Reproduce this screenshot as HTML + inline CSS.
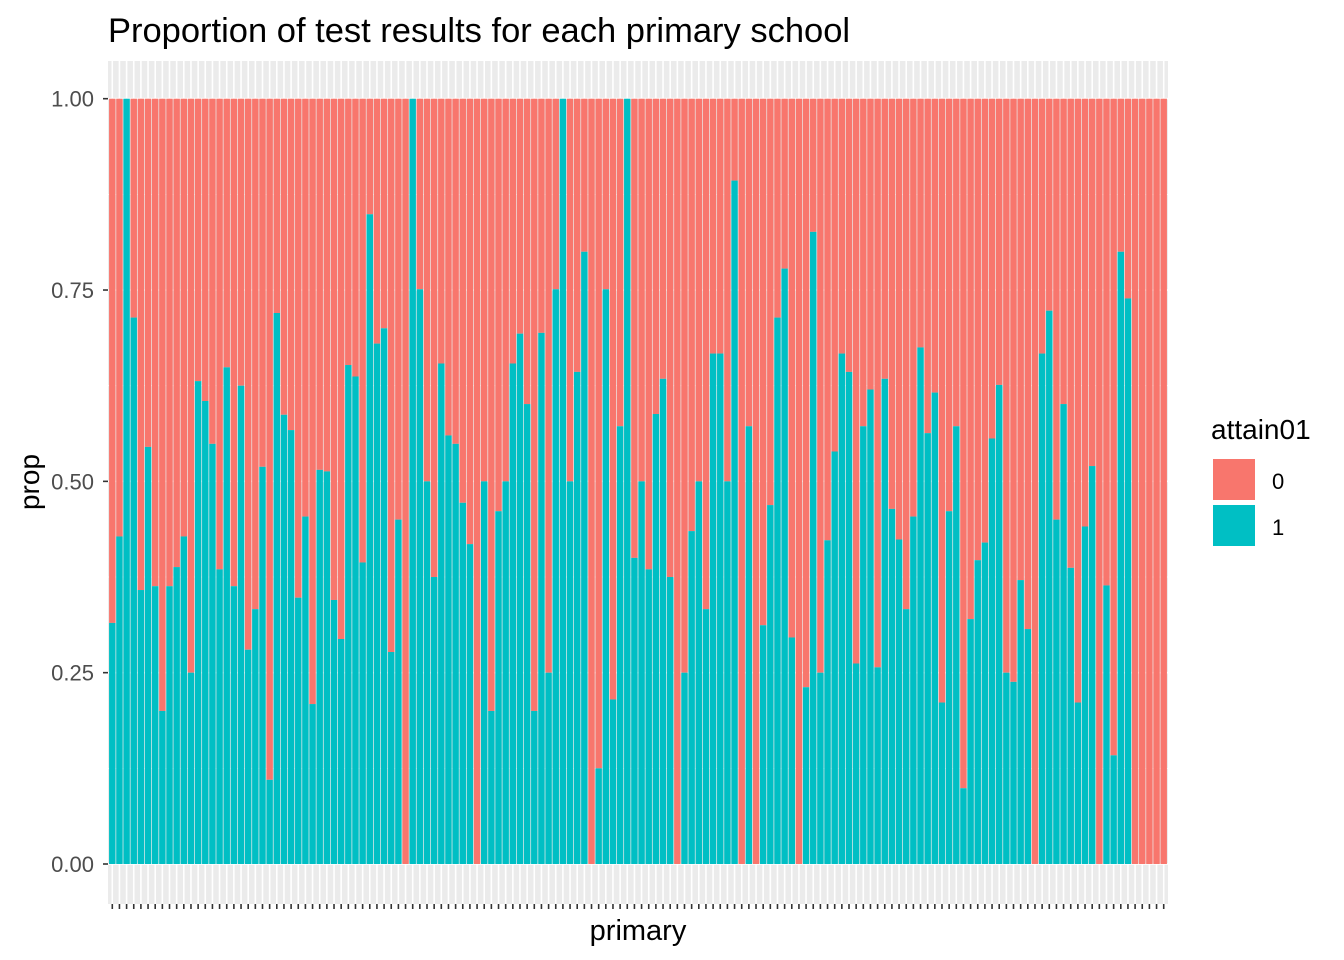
<!DOCTYPE html>
<html><head><meta charset="utf-8"><style>
html,body{margin:0;padding:0;background:#fff;}
svg{display:block;font-family:"Liberation Sans",Arial,sans-serif;}
</style></head><body>
<svg id="chart" width="1344" height="960" viewBox="0 0 1344 960" xmlns="http://www.w3.org/2000/svg">
<rect width="1344" height="960" fill="#fff"/>
<text x="108" y="42" font-size="34.5" fill="#000">Proportion of test results for each primary school</text>
<rect x="108" y="61" width="1060" height="843" fill="#EBEBEB"/>
<g id="grid"></g>
<g id="bars"></g>
<g id="yaxis"></g>
<g id="xticks"></g>
<text transform="translate(39,482) rotate(-90)" text-anchor="middle" font-size="28" fill="#000">prop</text>
<text x="638" y="940" text-anchor="middle" font-size="29" fill="#000">primary</text>
<g>
<text x="1211" y="439" font-size="28" fill="#000">attain01</text>
<rect x="1213" y="459" width="42" height="41" fill="#F8766D"/>
<rect x="1213" y="505" width="42" height="41" fill="#00BFC4"/>
<text x="1272" y="489" font-size="22" fill="#000">0</text>
<text x="1272" y="535" font-size="22" fill="#000">1</text>
</g>
</svg>
<script>
const props1 = [0.315,0.428,1.0,0.714,0.358,0.545,0.363,0.2,0.363,0.388,0.428,0.25,0.631,0.605,0.549,0.385,0.649,0.363,0.625,0.28,
0.333,0.519,0.11,0.72,0.587,0.567,0.348,0.454,0.209,0.515,0.513,0.345,0.294,0.652,0.637,0.394,0.849,0.68,0.70,0.277,
0.45,0,1.0,0.751,0.5,0.375,0.654,0.56,0.549,0.472,0.418,0,0.5,0.2,0.461,0.5,0.654,0.693,0.601,0.2,
0.694,0.25,0.751,1.0,0.5,0.643,0.8,0,0.125,0.751,0.215,0.572,1.0,0.4,0.5,0.385,0.588,0.634,0.375,0,
0.25,0.435,0.5,0.333,0.667,0.667,0.5,0.893,0,0.572,0,0.312,0.469,0.714,0.778,0.296,0,0.231,0.826,0.25,
0.423,0.539,0.667,0.643,0.262,0.572,0.62,0.257,0.634,0.464,0.424,0.333,0.454,0.675,0.563,0.616,0.211,0.461,0.572,0.099,
0.32,0.397,0.42,0.556,0.626,0.25,0.238,0.371,0.307,0,0.667,0.723,0.45,0.601,0.387,0.211,0.441,0.52,0,0.364,
0.142,0.8,0.739,0,0,0,0,0];
const yTicks = [0,0.25,0.5,0.75,1];
const yTickLabels = ["0.00","0.25","0.50","0.75","1.00"];
const NS="http://www.w3.org/2000/svg";
const panelL=108, panelR=1168, y0=864, y1=98.7;
const n=props1.length;
const u=(panelR-panelL)/(n-1+1.2);
function xC(i){return panelL+(0.6+i)*u;}
function yS(v){return y0-(y0-y1)*v;}
function mk(tag,attrs,parent){const e=document.createElementNS(NS,tag);for(const k in attrs)e.setAttribute(k,attrs[k]);parent.appendChild(e);return e;}
const grid=document.getElementById('grid'),bars=document.getElementById('bars'),ya=document.getElementById('yaxis'),xt=document.getElementById('xticks');
for(let k=0;k<yTicks.length-1;k++){
  const l=mk('line',{x1:panelL,x2:panelR,y1:yS((yTicks[k]+yTicks[k+1])/2),y2:yS((yTicks[k]+yTicks[k+1])/2),stroke:'#fff','stroke-width':0.8},grid);
  
  
}
yTicks.forEach((t,k)=>{
  const l=mk('line',{x1:panelL,x2:panelR,y1:yS(t),y2:yS(t),stroke:'#fff','stroke-width':1.6},grid);
  
  
  const tk=mk('line',{x1:panelL-5,x2:panelL,y1:yS(t),y2:yS(t),stroke:'#333','stroke-width':1.6},ya);
  
  
  const tx=mk('text',{x:panelL-14,y:yS(t)+8,'text-anchor':'end','font-size':22,fill:'#4D4D4D'},ya);
  tx.textContent=yTickLabels[k];
  
  
});
props1.forEach((p,i)=>{
  const x=xC(i);
  const g=mk('line',{x1:x,x2:x,y1:61,y2:904,stroke:'#fff','stroke-width':1.6},grid);
  
  
  const bw=0.9*u;
  const r=mk('rect',{x:x-bw/2,y:yS(1),width:bw,height:yS(p)-yS(1),fill:'#F8766D'},bars);
  
  
  const t=mk('rect',{x:x-bw/2,y:yS(p),width:bw,height:y0-yS(p),fill:'#00BFC4'},bars);
  
  
  const tk=mk('line',{x1:x,x2:x,y1:904,y2:909,stroke:'#333','stroke-width':1.6},xt);
  
  
});
</script>
</body></html>
